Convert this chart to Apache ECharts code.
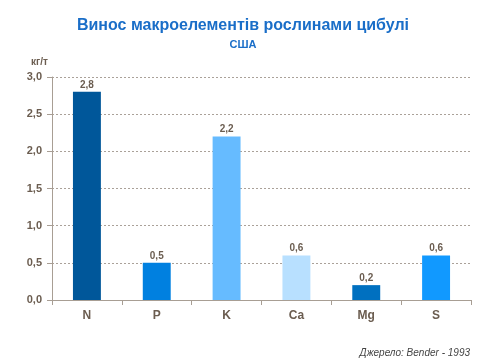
<!DOCTYPE html>
<html><head><meta charset="utf-8">
<script src="https://cdn.jsdelivr.net/npm/echarts@6/dist/echarts.min.js"></script>
<style>html,body{margin:0;padding:0;background:#fff}#c{width:480px;height:360px}</style>
</head><body><div id="c"></div>
<script>
const categories = ['N', 'P', 'K', 'Ca', 'Mg', 'S'];
const values = [2.8, 0.5, 2.2, 0.6, 0.2, 0.6];
const barColors = ['#00579a', '#0080e0', '#66bbff', '#b8e0ff', '#0070c0', '#1199ff'];
const yTicks = { min: 0, max: 3, interval: 0.5 };
const fmt = v => v.toFixed(1).replace('.', ',');
const txt = '#6b5d50';
const chart = echarts.init(document.getElementById('c'));
chart.setOption({
  animation: false,
  title: [
    { text: 'Винос макроелементів рослинами цибулі', left: 238, textAlign: 'center', top: 13,
      textStyle: { color: '#1a6ec8', fontSize: 16, fontWeight: 'bold', fontFamily: 'Liberation Sans' } },
    { text: 'США', left: 238, textAlign: 'center', top: 34,
      textStyle: { color: '#1a6ec8', fontSize: 11, fontWeight: 'bold', fontFamily: 'Liberation Sans' } },
    { text: 'кг/т', left: 26, top: 52,
      textStyle: { color: txt, fontSize: 10, fontWeight: 'bold', fontFamily: 'Liberation Sans' } },
    { text: 'Джерело: Bender - 1993', right: 5, top: 343,
      textStyle: { color: '#444', fontSize: 10, fontStyle: 'italic', fontWeight: 'normal', fontFamily: 'Liberation Sans' } }
  ],
  grid: { left: 52, right: 9, top: 77, bottom: 60 },
  xAxis: {
    type: 'category', data: categories,
    axisLine: { lineStyle: { color: '#a89e94', width: 1 } },
    axisTick: { show: true, alignWithLabel: false, length: 5, lineStyle: { color: '#a89e94' } },
    axisLabel: { color: txt, fontSize: 12, fontWeight: 'bold', fontFamily: 'Liberation Sans', margin: 10 }
  },
  yAxis: {
    type: 'value', min: yTicks.min, max: yTicks.max, interval: yTicks.interval,
    axisLine: { show: true, lineStyle: { color: '#a89e94', width: 1 } },
    axisTick: { show: true, length: 5, lineStyle: { color: '#a89e94' } },
    axisLabel: { color: txt, fontSize: 11, fontWeight: 'bold', fontFamily: 'Liberation Sans', formatter: v => fmt(v), margin: 10 },
    splitLine: { show: true, lineStyle: { color: '#aaa199', type: [2, 2], width: 1 } }
  },
  series: [{
    type: 'bar', barWidth: '40%',
    data: values.map((v, i) => ({ value: v, itemStyle: { color: barColors[i] } })),
    label: { show: true, position: 'top', distance: 2, color: txt, fontSize: 10, fontWeight: 'bold',
      fontFamily: 'Liberation Sans', formatter: p => fmt(p.value) }
  }]
});
</script></body></html>
